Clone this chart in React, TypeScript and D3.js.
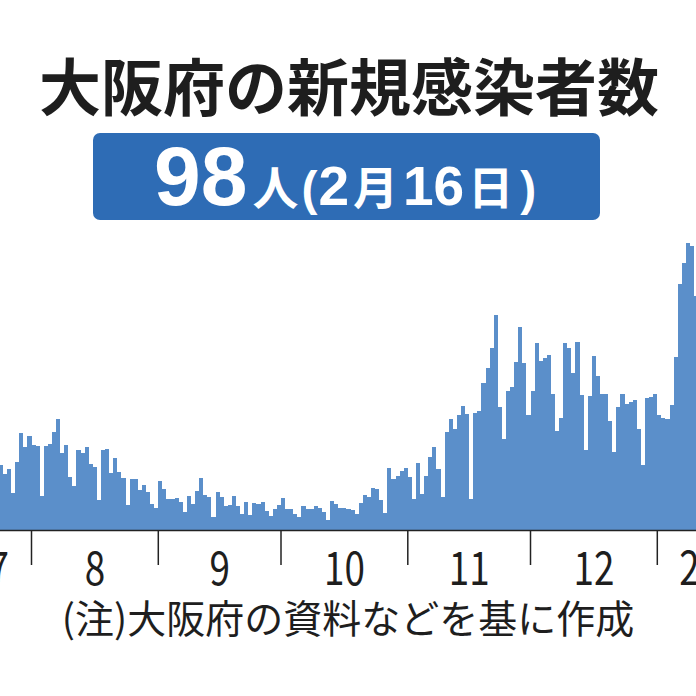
import React from 'react';
import * as d3 from 'd3';

// ---- data ----
const firstDay = '2020-07-24';
const dailyCases = [
  148, 129, 140, 85, 155, 221, 189, 215, 194, 193, 78, 192, 196, 225, 254, 177, 194, 121, 100, 183,
  175, 190, 150, 145, 68, 183, 185, 130, 164, 132, 119, 57, 116, 116, 91, 103, 87, 59, 50, 112,
  93, 71, 71, 74, 63, 42, 78, 59, 89, 118, 80, 75, 29, 87, 76, 55, 57,
  78, 56, 36, 63, 35, 62, 60, 63, 44, 33, 48, 57, 74, 48, 48, 37, 29, 56, 49, 47,
  55, 50, 42, 24, 66, 60, 50, 51, 47, 46, 37, 62, 80, 76, 97, 94, 68, 40, 141, 116,
  123, 135, 141, 120, 71, 154, 83, 123, 167, 189, 139, 75, 225, 254, 230, 262, 283,
  264, 70, 268, 272, 337, 371, 417, 492, 282, 209, 317, 327, 384, 464, 382, 262, 317, 428, 387, 394,
  399, 310, 227, 256, 428, 416, 358, 430, 308, 183, 307, 397, 352, 311, 311, 250, 179, 282, 311, 288,
  292, 298, 231, 148, 301, 304, 312, 262, 256, 253, 286, 395, 563, 611, 657, 650, 535,
];
const monthStarts = ['2020-07-01', '2020-08-01', '2020-09-01', '2020-10-01', '2020-11-01', '2020-12-01', '2021-01-01', '2021-02-01'];
const monthLabels = ['7', '8', '9', '10', '11', '12', '21年1'];
const axisStart = '2020-07-16';
const axisEnd = '2021-01-31';
const title = '大阪府の新規感染者数';
const headlineNumber = '98';
const headlineUnit = '人';
const headlineDateParts = ['(', '2', '月', '16', '日', ')'];
const note = '(注)大阪府の資料などを基に作成';

const W = 696;
const H = 696;
const parse = d3.timeParse('%Y-%m-%d');

export default function App() {
  const d0 = parse(firstDay)!;
  const x = d3
    .scaleTime()
    .domain([parse('2020-08-01')!, parse('2021-01-01')!])
    .range([31.5, 657.3]);
  const y = d3.scaleLinear().domain([0, 700]).range([530, 530 - 700 * 0.4375]);
  const baseY = y(0);

  const bars = dailyCases.map((v, i) => {
    const a = Math.round(x(d3.timeDay.offset(d0, i)));
    const b = Math.round(x(d3.timeDay.offset(d0, i + 1)));
    return { x0: a, w: b - a, top: Math.round(y(v)) };
  });

  const ms = monthStarts.map((s) => parse(s)!);
  const aS = parse(axisStart)!;
  const aE = parse(axisEnd)!;
  const labels = monthLabels.map((t, i) => {
    const s = ms[i] < aS ? aS : ms[i];
    const e = ms[i + 1] > aE ? aE : ms[i + 1];
    const isYearStart = ms[i].getMonth() === 0;
    return { t, cx: isYearStart ? x(ms[i]) + 22 : (x(s) + x(e)) / 2, anchor: isYearStart ? 'start' : 'middle' };
  });
  const ticks = ms.slice(1, 7);

  const jp = '"Noto Sans CJK JP", "Noto Sans", sans-serif';
  const lat = '"Liberation Sans", Arial, sans-serif';

  const partStyle = (p: string) => {
    if (p === '(') return { ff: lat, fs: 48, dx: 3 };
    if (p === ')') return { ff: lat, fs: 48, dx: 7 };
    if (/\d/.test(p)) return { ff: lat, fs: 55, dx: p === '2' ? 1 : 5 };
    return { ff: jp, fs: 45, dx: 4 };
  };

  return (
    <svg
      width={W}
      height={H}
      viewBox={`0 0 ${W} ${H}`}
      style={{ position: 'absolute', left: 0, top: 0, display: 'block', background: '#fff' }}
    >
      <rect x={0} y={0} width={W} height={H} fill="#fff" />
      <text x={349} y={111} textAnchor="middle" fontFamily={jp} fontWeight={700} fontSize={62} fill="#1e1e1e">
        {title}
      </text>
      <rect x={93} y={133} width={507} height={87} rx={7} fill="#2e6cb5" />
      <text x={154} y={205} fill="#fff" fontWeight={700}>
        <tspan fontFamily={lat} fontSize={84}>{headlineNumber}</tspan>
        <tspan fontFamily={jp} fontSize={46} dx={5}>{headlineUnit}</tspan>
        {headlineDateParts.map((p, i) => {
          const s = partStyle(p);
          return (
            <tspan key={i} fontFamily={s.ff} fontSize={s.fs} dx={s.dx}>
              {p}
            </tspan>
          );
        })}
      </text>
      <g>
        {bars.map((b, i) => (
          <rect key={i} x={b.x0} y={b.top} width={b.w} height={baseY - b.top} fill="#5b8fca" />
        ))}
      </g>
      <line x1={0} x2={W} y1={baseY + 0.5} y2={baseY + 0.5} stroke="#222" strokeWidth={1.5} />
      {ticks.map((d, i) => (
        <line key={i} x1={x(d)} x2={x(d)} y1={baseY} y2={565} stroke="#222" strokeWidth={1.5} />
      ))}
      {labels.map((l, i) => (
        <text
          key={i}
          transform={`translate(${l.cx},585) scale(0.8,1)`}
          textAnchor={l.anchor as any}
          fontFamily={jp}
          fontSize={46}
          fill="#1e1e1e"
        >
          {l.t}
        </text>
      ))}
      <text x={348} y={633} textAnchor="middle" fontFamily={jp} fontSize={39} fill="#1e1e1e">
        {note}
      </text>
    </svg>
  );
}
